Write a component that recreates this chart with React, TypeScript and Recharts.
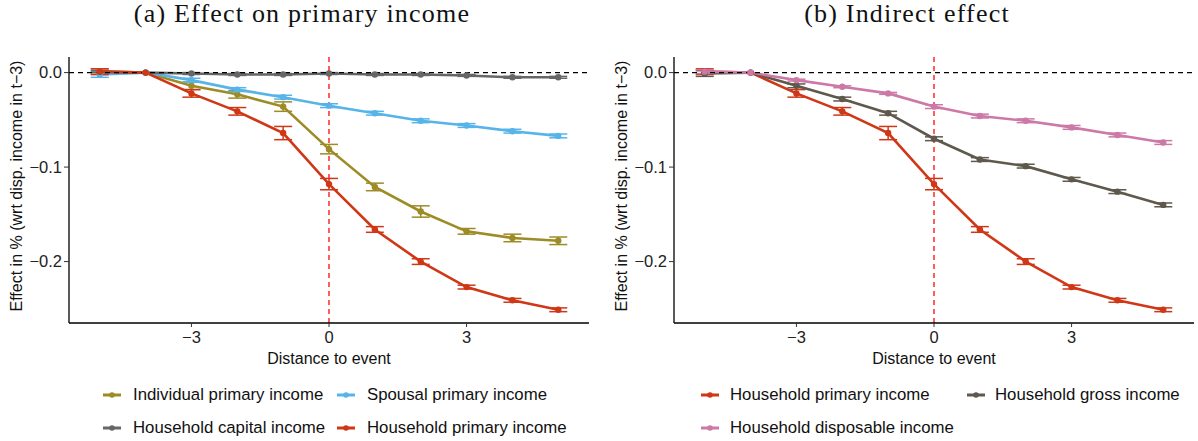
import React from "react";
import {
  LineChart, Line, XAxis, YAxis, ReferenceLine, ErrorBar,
} from "recharts";

// distance to event (years relative to t)
const distance = [-5, -4, -3, -2, -1, 0, 1, 2, 3, 4, 5];

const individualPrimary    = [0.001, 0, -0.014, -0.023, -0.036, -0.081, -0.121, -0.147, -0.168, -0.175, -0.178];
const individualPrimaryErr = [0.003, null, 0.004, 0.004, 0.005, 0.005, 0.004, 0.006, 0.003, 0.004, 0.004];

const spousalPrimary    = [-0.002, 0, -0.008, -0.018, -0.026, -0.035, -0.043, -0.051, -0.056, -0.062, -0.067];
const spousalPrimaryErr = [0.003, null, 0.002, 0.002, 0.002, 0.002, 0.002, 0.002, 0.002, 0.002, 0.002];

const householdCapital    = [0.001, 0, -0.001, -0.002, -0.002, -0.001, -0.002, -0.002, -0.003, -0.005, -0.005];
const householdCapitalErr = [0.001, null, 0.001, 0.001, 0.001, 0.001, 0.001, 0.001, 0.001, 0.001, 0.001];

const householdPrimary    = [0.001, 0, -0.022, -0.041, -0.064, -0.118, -0.166, -0.200, -0.227, -0.241, -0.251];
const householdPrimaryErr = [0.003, null, 0.004, 0.004, 0.007, 0.006, 0.003, 0.003, 0.002, 0.002, 0.002];

const householdGross    = [-0.001, 0, -0.014, -0.028, -0.043, -0.070, -0.092, -0.099, -0.113, -0.126, -0.140];
const householdGrossErr = [0.003, null, 0.002, 0.002, 0.002, 0.002, 0.002, 0.002, 0.002, 0.002, 0.002];

const householdDisposable    = [0.001, 0, -0.008, -0.015, -0.022, -0.036, -0.046, -0.051, -0.058, -0.066, -0.074];
const householdDisposableErr = [0.002, null, 0.001, 0.001, 0.001, 0.002, 0.002, 0.002, 0.002, 0.002, 0.002];

const xTicks = [-3, 0, 3];
const yTicks = [-0.2, -0.1, 0];

const C = {
  olive: "#9d8b25",
  blue:  "#56b4e9",
  gray:  "#666666",
  red:   "#cf3717",
  brown: "#5f584c",
  pink:  "#cc79a7",
};

const sans = "'Liberation Sans', Arial, Helvetica, sans-serif";
const serif = "'Liberation Serif', 'DejaVu Serif', serif";

const rows = distance.map((d, i) => ({
  d,
  ind: individualPrimary[i], indErr: individualPrimaryErr[i],
  spo: spousalPrimary[i], spoErr: spousalPrimaryErr[i],
  cap: householdCapital[i], capErr: householdCapitalErr[i],
  hhp: householdPrimary[i], hhpErr: householdPrimaryErr[i],
  gro: householdGross[i], groErr: householdGrossErr[i],
  dis: householdDisposable[i], disErr: householdDisposableErr[i],
}));

const fmtMinus = (s: string) => s.replace("-", "\u2212");
const tickStyle = { fontFamily: sans, fontSize: 16.5, fill: "#222" };

type S = { key: string; name: string; color: string };

const leftSeries: S[] = [
  { key: "ind", name: "Individual primary income", color: C.olive },
  { key: "spo", name: "Spousal primary income",    color: C.blue },
  { key: "cap", name: "Household capital income",  color: C.gray },
  { key: "hhp", name: "Household primary income",  color: C.red },
];
const rightSeries: S[] = [
  { key: "hhp", name: "Household primary income",    color: C.red },
  { key: "gro", name: "Household gross income",      color: C.brown },
  { key: "dis", name: "Household disposable income", color: C.pink },
];

function LegendKey({ color }: { color: string }) {
  return (
    <svg width={20} height={10} style={{ display: "block" }}>
      <line x1={1} y1={5} x2={19} y2={5} stroke={color} strokeWidth={3} />
      <circle cx={10} cy={5} r={2.8} fill={color} />
    </svg>
  );
}

function Panel({ title, series, legendPos }: {
  title: string; series: S[]; legendPos: { x: number; y: number; tx: number }[];
}) {
  return (
    <div style={{ position: "relative", width: 600, height: 441 }}>
      <div style={{
        position: "absolute", left: 0, top: -1, width: 604, textAlign: "center",
        fontFamily: serif, fontSize: 26, letterSpacing: 1.2, color: "#111",
      }}>{title}</div>
      <div style={{
        position: "absolute", left: 17, top: 186, transform: "translate(-50%, -50%) rotate(-90deg)",
        whiteSpace: "nowrap", fontFamily: sans, fontSize: 16, color: "#111",
      }}>Effect in % (wrt disp. income in t{"\u2212"}3)</div>
      <div style={{ position: "absolute", left: 0, top: 0 }}>
        <LineChart width={600} height={372} data={rows}
          margin={{ top: 57, right: 11, left: 17, bottom: 8 }}>
          <XAxis dataKey="d" type="number" domain={[-5.67, 5.67]} ticks={xTicks}
            allowDataOverflow tickFormatter={(v: number) => fmtMinus(String(v))}
            tick={tickStyle} tickSize={4} tickMargin={4} height={41}
            axisLine={{ stroke: "#000", strokeWidth: 1.3 }} tickLine={{ stroke: "#333" }}
            label={{ value: "Distance to event", position: "insideBottom", offset: 0,
              style: { fontFamily: sans, fontSize: 16, fill: "#111" } }} />
          <YAxis type="number" domain={[-0.265, 0.0165]} ticks={yTicks} allowDataOverflow
            tickFormatter={(v: number) => fmtMinus(v.toFixed(1))} width={52}
            tick={tickStyle} tickSize={5} tickMargin={2}
            axisLine={{ stroke: "#000", strokeWidth: 1.3 }} tickLine={{ stroke: "#333" }} />
          {series.map((s) => (
            <Line key={s.key} dataKey={s.key} type="linear" stroke={s.color} strokeWidth={2.6}
              dot={{ r: 3.2, fill: s.color, stroke: s.color, strokeWidth: 0 }}
              isAnimationActive={false}>
              <ErrorBar dataKey={s.key + "Err"} width={9} stroke={s.color} strokeWidth={1.5}
                direction="y" isAnimationActive={false} />
            </Line>
          ))}
          <ReferenceLine y={0} stroke="#000" strokeWidth={1.4} strokeDasharray="5 4" />
          <ReferenceLine x={0} stroke="#ff1a1a" strokeWidth={1.4} strokeDasharray="5 4" />
        </LineChart>
      </div>
      {series.map((s, i) => (
        <div key={s.key} style={{ position: "absolute", left: legendPos[i].x, top: legendPos[i].y - 11,
          height: 22, display: "flex", alignItems: "center" }}>
          <LegendKey color={s.color} />
          <span style={{ marginLeft: legendPos[i].tx - legendPos[i].x - 20, fontFamily: sans,
            fontSize: 16.8, color: "#111", whiteSpace: "nowrap" }}>{s.name}</span>
        </div>
      ))}
    </div>
  );
}

export default function App() {
  return (
    <div style={{ position: "absolute", left: 0, top: 0, width: 1198, height: 441, background: "#fff", overflow: "hidden" }}>
      <div style={{ position: "absolute", left: 0, top: 0 }}>
        <Panel title="(a) Effect on primary income" series={leftSeries}
          legendPos={[
            { x: 102, y: 395, tx: 133 }, { x: 336, y: 395, tx: 367 },
            { x: 102, y: 428, tx: 133 }, { x: 336, y: 428, tx: 367 },
          ]} />
      </div>
      <div style={{ position: "absolute", left: 605, top: 0 }}>
        <Panel title="(b) Indirect effect" series={rightSeries}
          legendPos={[
            { x: 95, y: 395, tx: 125 }, { x: 361, y: 395, tx: 390 },
            { x: 95, y: 428, tx: 125 },
          ]} />
      </div>
    </div>
  );
}
